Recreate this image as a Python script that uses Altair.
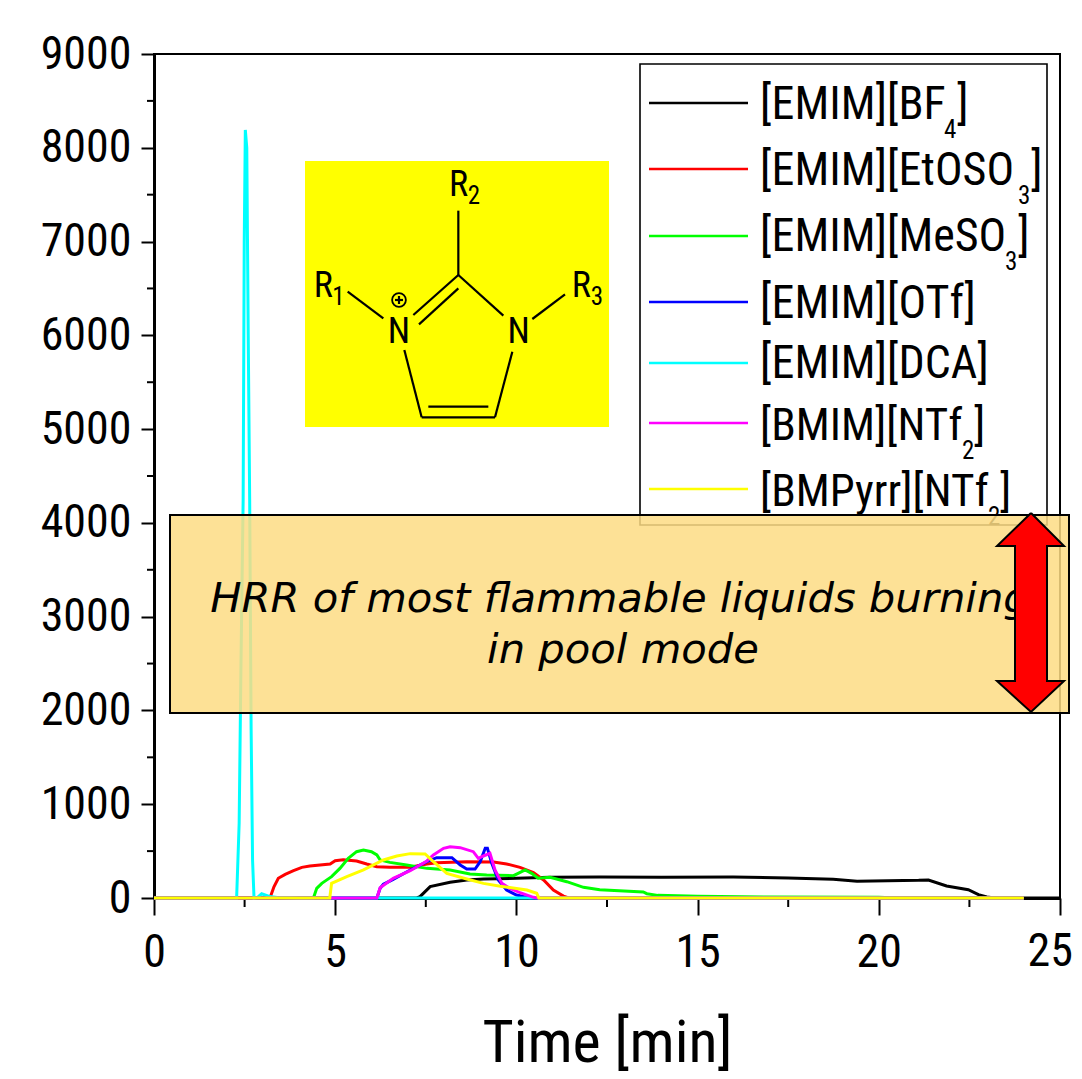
import altair as alt
import pandas as pd

# ---- series (minutes, HRR) ----
black_t = [0, 7.25, 7.34, 7.62, 8.17, 8.63, 9.09, 10.0, 10.93, 12.3, 14, 15.98, 17.5, 18.74, 19.4, 21.1, 21.37, 21.87, 22.47, 22.75, 22.98, 23.2, 25]
black_v = [0, 0, 14, 121, 167, 192, 203, 210, 220, 224, 222, 224, 214, 199, 178, 188, 192, 128, 89, 36, 10, 0, 0]
red_t = [0, 3.2, 3.31, 3.43, 3.62, 3.85, 4.08, 4.3, 4.86, 5.0, 5.22, 5.59, 5.87, 6.15, 6.51, 7.07, 7.53, 7.8, 8.63, 9.37, 9.73, 10.1, 10.47, 10.75, 11.02, 11.3, 11.44, 24]
red_v = [0, 0, 120, 210, 252, 291, 327, 341, 362, 398, 409, 395, 363, 334, 327, 327, 363, 377, 387, 384, 363, 327, 270, 192, 85, 21, 0, 0]
green_t = [0, 4.4, 4.49, 4.63, 4.9, 5.13, 5.36, 5.59, 5.78, 6.0, 6.15, 6.24, 6.51, 6.97, 7.53, 8.17, 8.72, 9.18, 9.92, 10.24, 10.42, 10.6, 10.93, 11.39, 11.85, 12.3, 13.5, 13.6, 13.9, 15, 16.9, 20, 20.5, 24]
green_v = [0, 0, 103, 156, 228, 316, 423, 494, 512, 494, 459, 405, 380, 352, 316, 299, 256, 245, 238, 299, 263, 210, 220, 174, 114, 89, 64, 46, 28, 18, 10, 8, 0, 0]
blue_t = [0, 6.15, 6.24, 6.33, 6.6, 7.07, 7.53, 7.8, 8.22, 8.45, 8.63, 8.86, 9.0, 9.14, 9.2, 9.32, 9.5, 9.73, 10.0, 10.38, 24]
blue_v = [0, 0, 103, 146, 199, 299, 387, 430, 430, 352, 309, 309, 387, 530, 530, 370, 192, 85, 32, 0, 0]
cyan_t = [0, 2.28, 2.35, 2.4, 2.46, 2.49, 2.52, 2.56, 2.6, 2.64, 2.68, 2.72, 2.76, 2.85, 2.97, 3.2, 3.4, 4, 24]
cyan_v = [0, 0, 800, 2500, 4250, 7000, 8190, 8000, 6000, 4250, 1800, 400, 0, 5, 45, 15, 5, 0, 0]
magenta_t = [0, 6.15, 6.24, 6.6, 7.07, 7.53, 7.71, 7.99, 8.17, 8.45, 8.81, 8.95, 9.09, 9.27, 9.41, 9.6, 9.82, 10.1, 10.47, 10.6, 24]
magenta_v = [0, 0, 110, 210, 291, 395, 459, 530, 547, 537, 494, 423, 448, 476, 299, 156, 103, 57, 7, 0, 0]
yellow_t = [0, 4.85, 4.9, 5.32, 5.78, 6.33, 6.7, 7.07, 7.48, 7.71, 8.08, 8.63, 9.09, 9.64, 10.29, 10.56, 10.62, 24]
yellow_v = [0, 0, 156, 228, 299, 405, 448, 473, 469, 387, 263, 203, 156, 121, 85, 50, 0, 0]

series_names = ["[EMIM][BF4]", "[EMIM][EtOSO3]", "[EMIM][MeSO3]", "[EMIM][OTf]", "[EMIM][DCA]", "[BMIM][NTf2]", "[BMPyrr][NTf2]"]
series_colors = ["#000000", "#ff0000", "#00ff00", "#0000ff", "#00ffff", "#ff00ff", "#ffff00"]
series_t = [black_t, red_t, green_t, blue_t, cyan_t, magenta_t, yellow_t]
series_v = [black_v, red_v, green_v, blue_v, cyan_v, magenta_v, yellow_v]

x_major = [0, 5, 10, 15, 20, 25]
x_minor = [2.5, 7.5, 12.5, 17.5, 22.5]
y_major = list(range(0, 9001, 1000))
y_minor = list(range(500, 9000, 1000))

NARROW = "Roboto Condensed"
L, T, W, H = 154, 54, 906, 844
XMAX, YMAX = 25, 9000


def dx(px):
    return (px - L) / W * XMAX


def dy(py):
    return (T + H - py) / H * YMAX


xs = alt.Scale(domain=[0, XMAX], nice=False)
ys = alt.Scale(domain=[0, YMAX], nice=False)
x_axis = alt.Axis(values=x_major, title="Time [min]", tickSize=17, tickWidth=2, domainWidth=3, domainColor="black",
                  tickColor="black", grid=False, labelFont=NARROW, labelFontSize=46, labelColor="black",
                  labelPadding=15, labelOverlap=False, labelFlush=False, format="d",
                  labelExpr="datum.value == 25 ? '' : datum.label",
                  titleFont=NARROW, titleFontSize=60, titleFontWeight="normal", titleColor="black", titlePadding=39)
y_axis = alt.Axis(values=y_major, title=None, tickSize=13, tickWidth=2, domainWidth=3, domainColor="black",
                  tickColor="black", grid=False, labelFont=NARROW, labelFontSize=46, labelColor="black",
                  labelPadding=10, labelOverlap=False, labelFlush=False, format="d")
X = alt.X("x:Q", scale=xs, axis=x_axis)
Y = alt.Y("y:Q", scale=ys, axis=y_axis)


def rect(x1, y1, x2, y2, **kw):
    d = pd.DataFrame({"x": [dx(x1)], "x2": [dx(x2)], "y": [dy(y1)], "y2": [dy(y2)]})
    return alt.Chart(d).mark_rect(clip=False, **kw).encode(X, Y, x2="x2:Q", y2="y2:Q")


def seg(x1, y1, x2, y2, w=2.2, color="black"):
    d = pd.DataFrame({"x": [dx(x1)], "x2": [dx(x2)], "y": [dy(y1)], "y2": [dy(y2)]})
    return alt.Chart(d).mark_rule(color=color, strokeWidth=w, clip=False).encode(X, Y, x2="x2:Q", y2="y2:Q")


def label(px, py, s, size, align="left", font=NARROW, style="normal"):
    d = pd.DataFrame({"x": [dx(px)], "y": [dy(py)], "t": [s]})
    return alt.Chart(d).mark_text(align=align, baseline="alphabetic", font=font, fontSize=size,
                                  fontStyle=style, color="black", clip=False).encode(X, Y, text="t:N")


layers = []

# minor ticks
for v in x_minor:
    layers.append(alt.Chart(pd.DataFrame({"x": [v]})).mark_rule(color="black", strokeWidth=2, clip=False).encode(
        X, y=alt.value(H), y2=alt.value(H + 9)))
for v in y_minor:
    layers.append(alt.Chart(pd.DataFrame({"y": [v]})).mark_rule(color="black", strokeWidth=2, clip=False).encode(
        Y, x=alt.value(-7), x2=alt.value(0)))
layers.append(label(1073, 966, "25", 46, align="right"))

# curves
for t, v, c in zip(series_t, series_v, series_colors):
    layers.append(alt.Chart(pd.DataFrame({"x": t, "y": v})).mark_line(color=c, strokeWidth=3, clip=False).encode(X, Y))

# legend
legend_y = [103, 169, 236, 302, 363, 423, 489]
legend_base = [119, 185, 251, 318, 378, 440, 506]
legend_main = ["[EMIM][BF", "[EMIM][EtOSO", "[EMIM][MeSO", "[EMIM][OTf]", "[EMIM][DCA]", "[BMIM][NTf", "[BMPyrr][NTf"]
legend_size = [46, 46, 46, 46, 46, 45, 45]
legend_sub = ["4", "3", "3", "", "", "2", "2"]
legend_sub_x = [944, 1018, 1005, 0, 0, 962, 988]
legend_close_x = [957, 1031, 1018, 0, 0, 974, 1000]

layers.append(rect(640, 64, 1047, 525, fill="white", fillOpacity=0, stroke="black", strokeWidth=1.6))
for i in range(7):
    layers.append(seg(649, legend_y[i], 748, legend_y[i], w=2.6, color=series_colors[i]))
    layers.append(label(760, legend_base[i], legend_main[i], legend_size[i]))
    if legend_sub[i]:
        layers.append(label(legend_sub_x[i], legend_base[i] + 19, legend_sub[i], 25))
        layers.append(label(legend_close_x[i], legend_base[i], "]", legend_size[i]))

# structure
layers.append(rect(305, 161, 609, 427, fill="#ffff00"))


def sx(z):
    return 280 + z / 3


def sy(z):
    return 140 + z / 3


bonds = [
    (535, 212, 535, 405), (535, 405, 400, 525), (535, 445, 417, 553), (535, 405, 670, 527),
    (203, 455, 310, 535), (757, 537, 855, 463), (373, 630, 425, 832), (425, 832, 645, 832),
    (445, 800, 625, 800), (697, 635, 645, 832), (357, 468, 357, 492), (345, 480, 369, 480),
]
for a, b, c, d in bonds:
    layers.append(seg(sx(a), sy(b), sx(c), sy(d)))
layers.append(
    alt.Chart(pd.DataFrame({"x": [dx(sx(357))], "y": [dy(sy(480))]}))
    .mark_point(shape="circle", size=190, filled=False, color="black", strokeWidth=1.8, opacity=1, clip=False)
    .encode(X, Y)
)
atoms = [("N", 357, 610, 36), ("N", 716, 610, 36), ("R", 130, 470, 36), ("R", 536, 167, 36), ("R", 904, 470, 36),
         ("1", 175, 495, 25), ("2", 582, 192, 25), ("3", 951, 495, 25)]
for s, a, b, size in atoms:
    layers.append(label(sx(a), sy(b), s, size, align="center"))

# beige band, note and arrow
layers.append(rect(170, 515, 1069, 713, fill="#FDDC84", fillOpacity=0.85, stroke="black", strokeWidth=2))
layers.append(label(620, 612, "HRR of most flammable liquids burning", 41.7, align="center", font="DejaVu Sans", style="italic"))
layers.append(label(623, 663, "in pool mode", 41.7, align="center", font="DejaVu Sans", style="italic"))

arrow_py = [513, 546, 546, 681, 681, 712]
arrow_left = [1031, 997, 1015, 1015, 997, 1031]
arrow_right = [1031, 1064, 1047, 1047, 1064, 1031]
adf = pd.DataFrame({"x": [dx(p) for p in arrow_left], "x2": [dx(p) for p in arrow_right], "y": [dy(p) for p in arrow_py]})
layers.append(alt.Chart(adf).mark_area(orient="horizontal", color="#ff0000", clip=False).encode(X, Y, x2="x2:Q"))
outline_x = arrow_left + arrow_right[::-1] + arrow_left[:1]
outline_y = arrow_py + arrow_py[::-1] + arrow_py[:1]
odf = pd.DataFrame({"x": [dx(p) for p in outline_x], "y": [dy(p) for p in outline_y], "o": list(range(len(outline_x)))})
layers.append(alt.Chart(odf).mark_line(color="black", strokeWidth=2, clip=False).encode(X, Y, order="o:Q"))

chart = (
    alt.layer(*layers)
    .properties(width=W, height=H, background="white",
                autosize=alt.AutoSizeParams(type="none"),
                padding={"left": 146, "top": 46, "right": 14, "bottom": 180})
    .configure_view(stroke="black", strokeWidth=2)
)
chart.save("out.html", embed_options={"renderer": "svg", "actions": False})
